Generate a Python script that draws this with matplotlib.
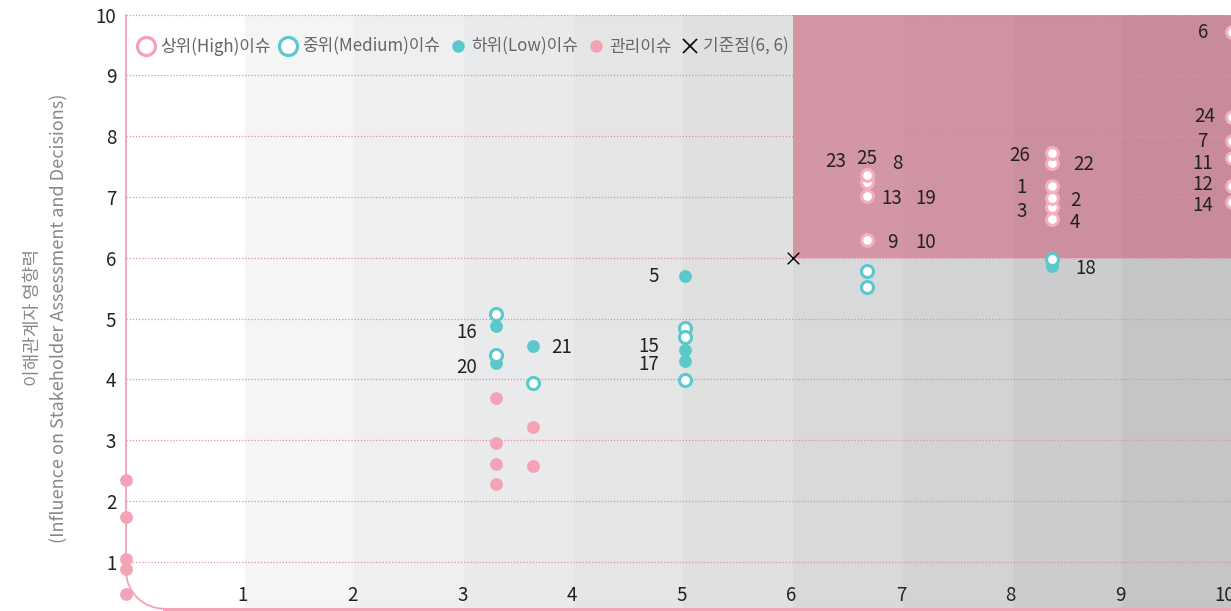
import matplotlib
matplotlib.use('Agg')
import matplotlib.pyplot as plt
from matplotlib.patches import Arc
from matplotlib.lines import Line2D

plt.rcParams['font.family'] = ['Noto Sans CJK KR', 'DejaVu Sans']

# 상위(High) 이슈
high_x = [6.67, 6.67, 6.67, 6.67, 8.36, 8.36, 8.36, 8.36, 8.36, 8.36, 10.0, 10.0, 10.0, 10.0, 10.0, 10.0]
high_y = [6.29, 7.01, 7.25, 7.36, 6.64, 6.84, 6.99, 7.19, 7.56, 7.73, 6.92, 7.18, 7.65, 7.93, 8.32, 9.71]
# 중위(Medium) 이슈
mid_x = [3.29, 3.29, 3.63, 5.01, 5.01, 5.01, 6.67, 6.67, 8.36]
mid_y = [5.08, 4.41, 3.95, 4.84, 4.70, 3.99, 5.79, 5.52, 5.99]
# 하위(Low) 이슈
low_x = [5.01, 3.29, 3.29, 3.63, 5.01, 5.01, 8.36]
low_y = [5.70, 4.88, 4.27, 4.55, 4.48, 4.30, 5.86]
# 관리이슈
mng_x = [-0.08, -0.08, -0.08, -0.08, -0.08, 3.29, 3.29, 3.29, 3.29, 3.63, 3.63]
mng_y = [2.35, 1.74, 1.05, 0.88, 0.47, 3.70, 2.96, 2.61, 2.28, 3.22, 2.58]
# 기준점
ref_x, ref_y = 6, 6

# 이슈 번호 라벨
issue_no = ['23', '25', '8', '13', '19', '9', '10', '26', '22', '1', '2', '3', '4', '18',
            '6', '24', '7', '11', '12', '14', '5', '16', '20', '21', '15', '17']
issue_x = [6.39, 6.67, 6.95, 6.90, 7.21, 6.90, 7.21, 8.06, 8.65, 8.08, 8.57, 8.08, 8.57, 8.67,
           9.74, 9.75, 9.73, 9.73, 9.73, 9.73, 4.73, 3.02, 3.02, 3.89, 4.68, 4.68]
issue_y = [7.58, 7.64, 7.56, 6.97, 6.97, 6.25, 6.25, 7.69, 7.53, 7.15, 6.94, 6.77, 6.58, 5.82,
           9.71, 8.32, 7.91, 7.56, 7.20, 6.86, 5.70, 4.78, 4.19, 4.52, 4.55, 4.24]

x_ticks = [1, 2, 3, 4, 5, 6, 7, 8, 9, 10]
y_ticks = [1, 2, 3, 4, 5, 6, 7, 8, 9, 10]

band_colors = ['#ffffff', '#f4f5f5', '#efefef', '#e9eaeb', '#e4e5e5',
               '#dfe0e0', '#d8d9da', '#d2d3d4', '#cbcccd', '#c4c5c6']

pink = '#f4a3b6'
teal = '#5bc8cc'
xmin, xmax = -0.082, 10.0
ymin, ymax = 0.23, 10.0

fig = plt.figure(figsize=(12.31, 6.11), dpi=100)
ax = fig.add_axes([126 / 1231, 2.3 / 611, 1106 / 1231, 594 / 611])
ax.set_xlim(xmin, xmax)
ax.set_ylim(ymin, ymax)

# 배경 밴드
for i, c in enumerate(band_colors):
    left = xmin if i == 0 else i
    ax.axvspan(left, i + 1, color=c, lw=0, zorder=0)

# 상위 영역
ax.fill_between([6, 10], 6, 10, color=(205 / 255, 70 / 255, 100 / 255), alpha=0.45, lw=0, zorder=1)

# 그리드
for y in y_ticks:
    ax.axhline(y, color='#f08aa4', lw=0.9, ls=(0, (1, 1.5)), zorder=2)

for s in ax.spines.values():
    s.set_visible(False)

# 둥근 모서리 축선
rx, ry = 38 / 109.7, 38 / 60.8
ax.plot([xmin, xmin], [ymin + ry, ymax], color=pink, lw=1.3, clip_on=False, zorder=2)
ax.plot([xmin + rx, xmax + 0.1], [ymin, ymin], color=pink, lw=2.2, clip_on=False, zorder=2)
ax.add_patch(Arc((xmin + rx, ymin + ry), 2 * rx, 2 * ry, theta1=180, theta2=270,
                 color=pink, lw=1.3, clip_on=False, zorder=2))

# 점
ax.scatter(mng_x, mng_y, s=85, color=pink, lw=0, zorder=3, clip_on=False)
ax.scatter(low_x, low_y, s=85, color=teal, lw=0, zorder=3, clip_on=False)
ax.scatter(mid_x, mid_y, s=75, facecolor='white', edgecolor=teal, lw=2.2, zorder=4, clip_on=False)
ax.scatter(high_x, high_y, s=72, facecolor='white', edgecolor='#f6afc0', lw=2.2, zorder=4, clip_on=False)
ax.scatter([ref_x], [ref_y], marker='x', s=70, color='black', lw=1.0, zorder=5)

for t, x, y in zip(issue_no, issue_x, issue_y):
    ax.text(x, y, t, ha='center', va='center', fontsize=13.5, color='#222222', zorder=6)

# 축 눈금
ax.set_xticks([])
ax.set_yticks(y_ticks)
ax.set_yticklabels([str(v) for v in y_ticks], fontsize=13.5, color='#222222')
ax.tick_params(axis='y', length=0, pad=7)
for v in x_ticks:
    ax.text(v + 0.03, 0.44, str(v), ha='right', va='center', fontsize=13.5, color='#222222', zorder=6)

fig.text(33 / 1231, 1 - 318 / 611, '이해관계자 영향력', rotation=90, ha='center', va='center',
         fontsize=13, color='#888888')
fig.text(59 / 1231, 1 - 318 / 611, '(Influence on Stakeholder Assessment and Decisions)', rotation=90,
         ha='center', va='center', fontsize=13, color='#888888')

# 범례
handles = [
    Line2D([], [], ls='', marker='o', ms=13, mfc='white', mec=pink, mew=2.3),
    Line2D([], [], ls='', marker='o', ms=13, mfc='white', mec=teal, mew=2.3),
    Line2D([], [], ls='', marker='o', ms=8, color=teal),
    Line2D([], [], ls='', marker='o', ms=8, color=pink),
    Line2D([], [], ls='', marker='x', ms=10, color='black', mew=1.2),
]
labels = ['상위(High)이슈', '중위(Medium)이슈', '하위(Low)이슈', '관리이슈', '기준점(6, 6)']
leg = ax.legend(handles, labels, loc='upper left', bbox_to_anchor=(0.0, 0.982), ncol=5, frameon=False,
                fontsize=12.2, handlelength=1.0, handletextpad=0.3, columnspacing=0.55, borderaxespad=0.3)
for t in leg.get_texts():
    t.set_color('#666666')

fig.savefig('out.png', dpi=100)
